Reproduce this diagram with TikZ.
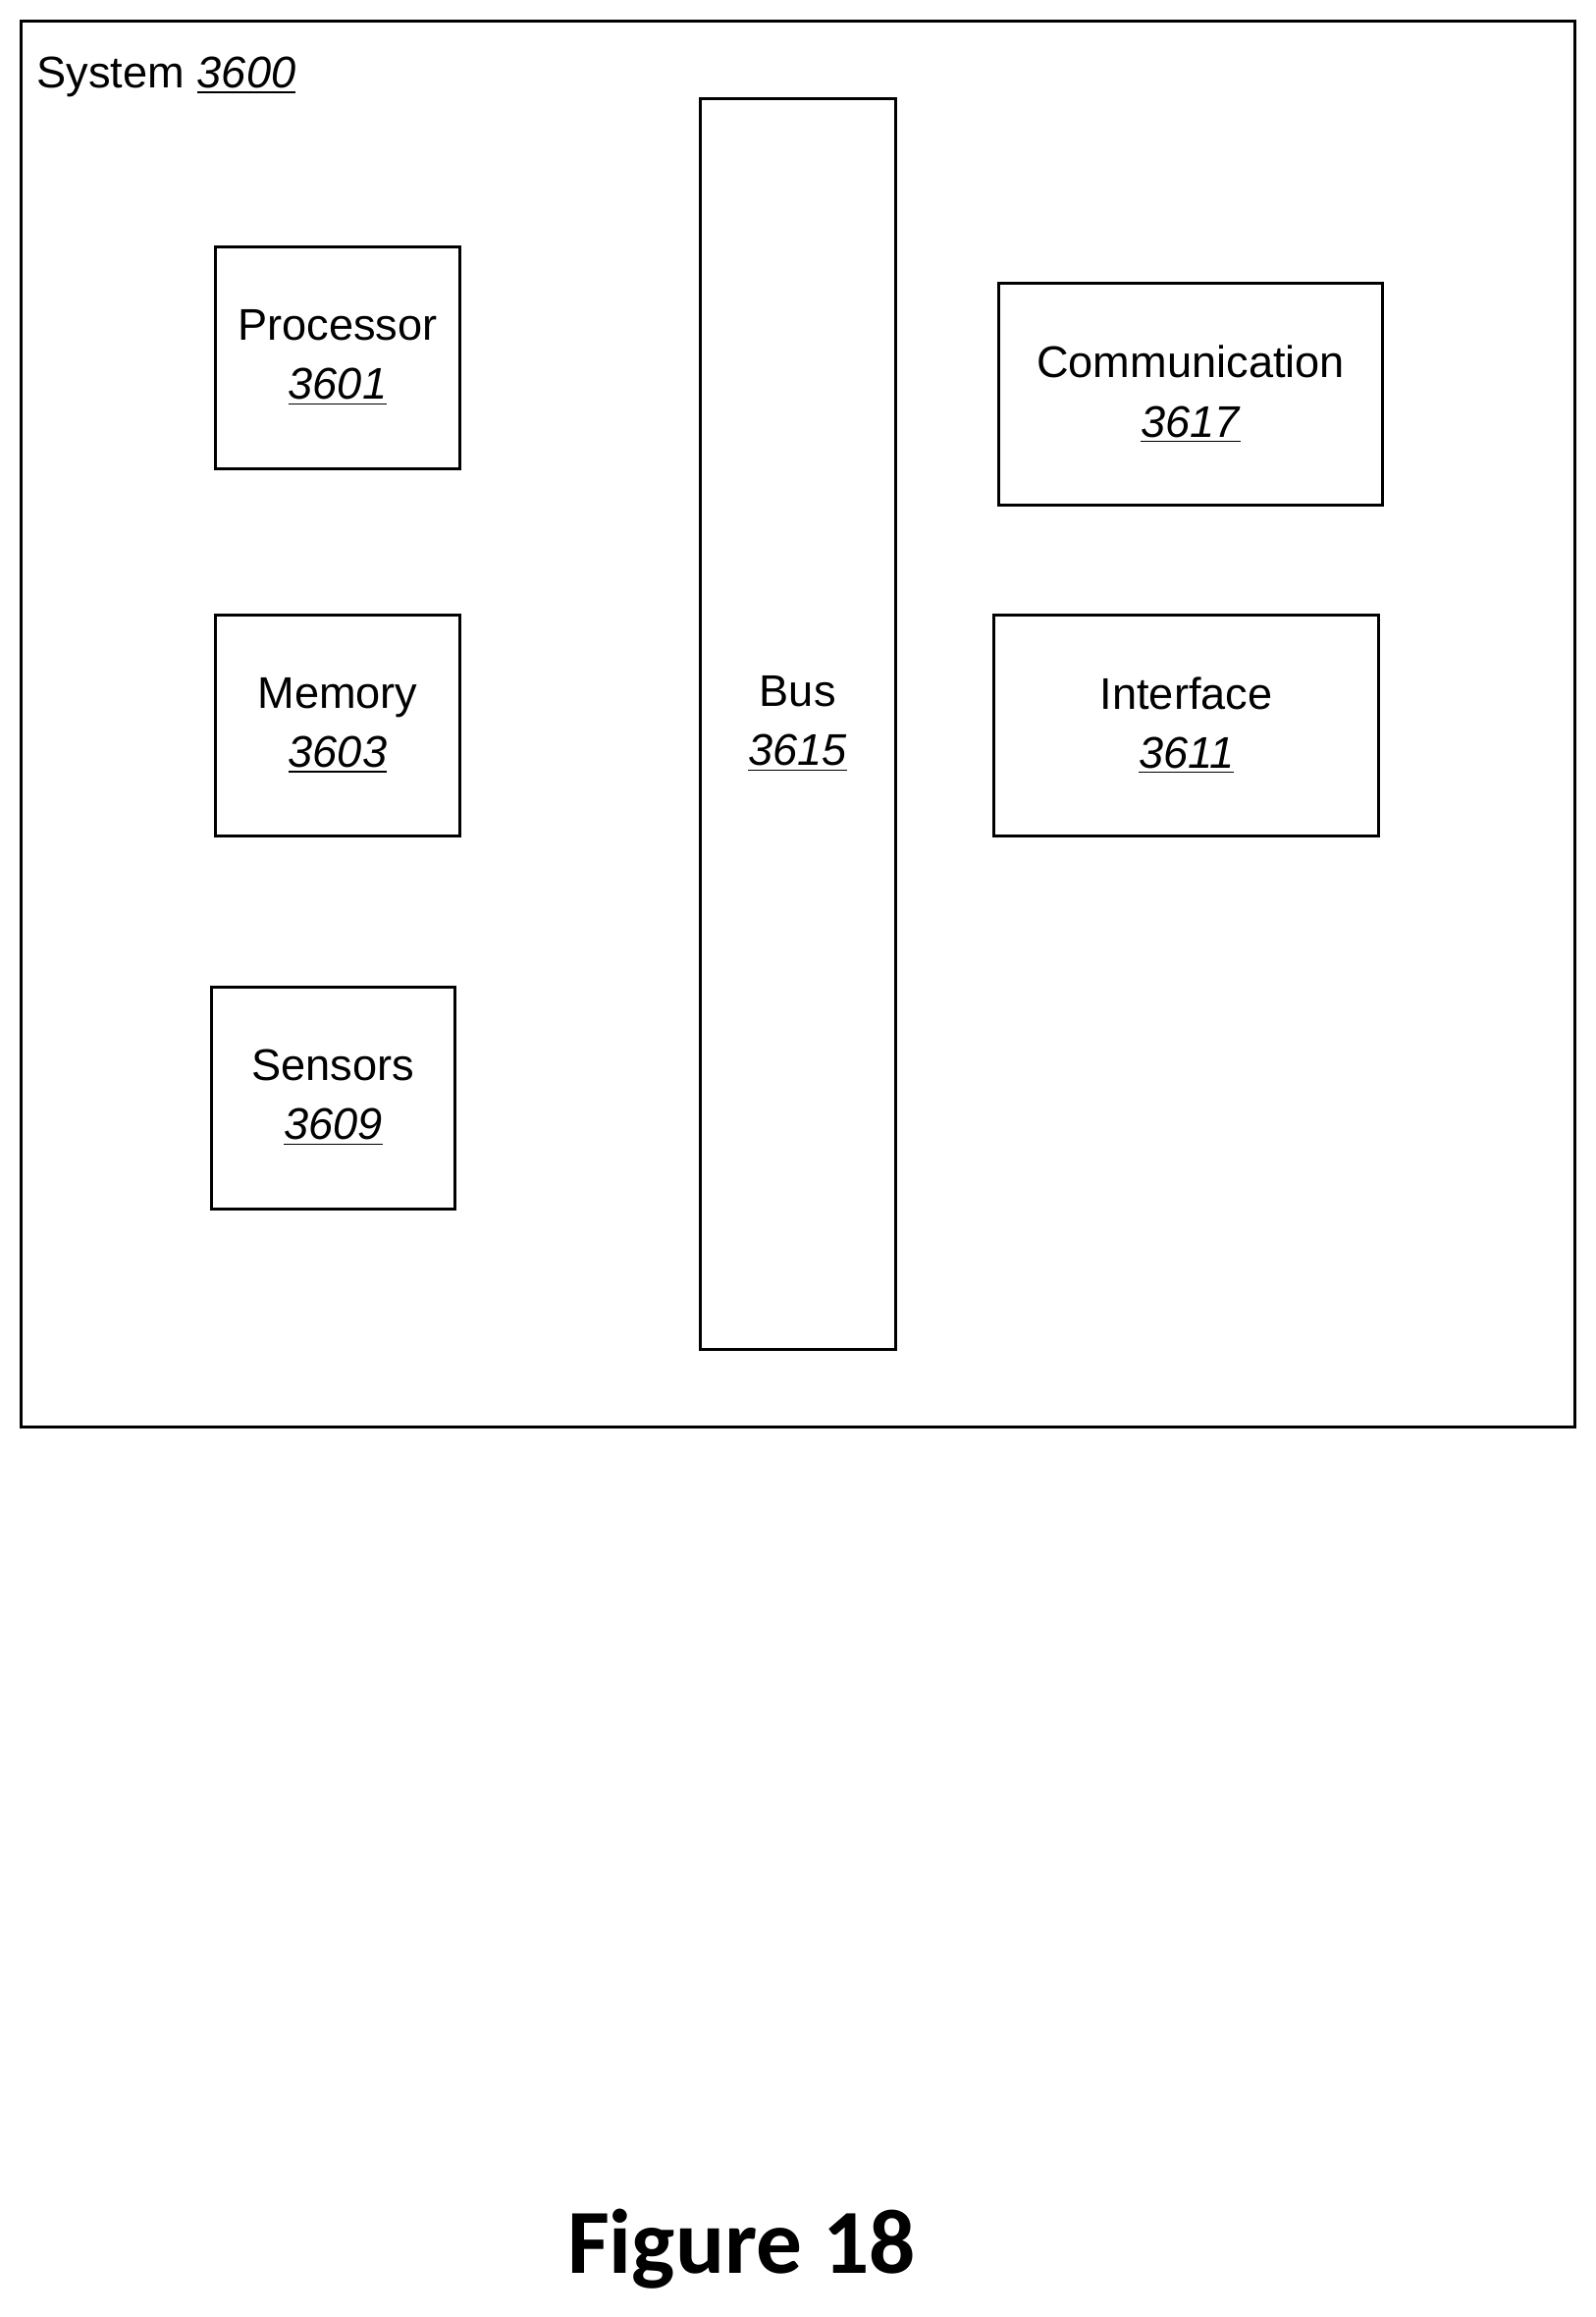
\documentclass[tikz,border=0pt]{standalone}
\usepackage{fontspec}
\setmainfont{Liberation Sans}
\newfontfamily\figfont{Carlito}
\usetikzlibrary{positioning}
\newcommand{\refnum}[1]{\underline{\textit{#1}}}
\tikzset{
  blockbox/.style={draw, line width=1pt, inner sep=0pt, align=center,
    font=\fontsize{15}{20}\selectfont},
}
\begin{document}
\begin{tikzpicture}[x=0.5pt,y=-0.5pt]
\useasboundingbox (0,0) rectangle (1080,1568);
\fill[white] (0,0) rectangle (1080,1568);
\draw[line width=1pt] (14,14) rectangle (1066,966);
\node[anchor=west, font=\fontsize{15}{18}\selectfont] (syslabel) at (18,52) {System \refnum{3600}};
\node[blockbox, minimum width=82.5pt, minimum height=75pt] (proc) at (228.5,242) {Processor\\\refnum{3601}};
\node[blockbox, minimum width=82.5pt, minimum height=75pt] (mem) at (228.5,491) {Memory\\\refnum{3603}};
\node[blockbox, minimum width=82.5pt, minimum height=75pt] (sens) at (225.5,743) {Sensors\\\refnum{3609}};
\node[blockbox, minimum width=66pt, minimum height=423pt] (bus) at (540,490) {Bus\\\refnum{3615}};
\node[blockbox, minimum width=130pt, minimum height=75pt] (comm) at (806,267) {Communication\\\refnum{3617}};
\node[blockbox, minimum width=130pt, minimum height=75pt] (iface) at (803,491) {Interface\\\refnum{3611}};
\node[font=\figfont\bfseries\fontsize{31}{36}\selectfont] (fig) at (502,1522) {Figure 18};
\end{tikzpicture}
\end{document}
